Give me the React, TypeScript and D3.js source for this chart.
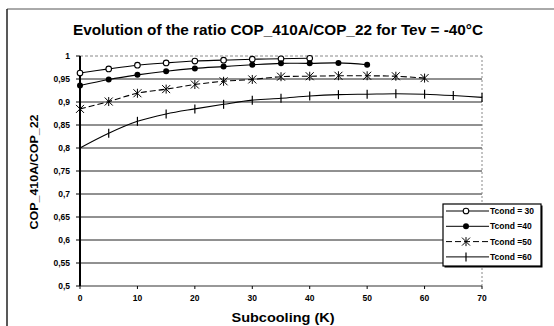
import React from "react";
import * as d3 from "d3";

const subcooling = [0, 5, 10, 15, 20, 25, 30, 35, 40, 45, 50, 55, 60, 65, 70];
const tcond30 = [0.963, 0.972, 0.98, 0.985, 0.989, 0.991, 0.993, 0.994, 0.995];
const tcond40 = [0.936, 0.949, 0.959, 0.967, 0.973, 0.977, 0.981, 0.984, 0.984, 0.985, 0.981];
const tcond50 = [0.885, 0.901, 0.919, 0.928, 0.938, 0.945, 0.949, 0.955, 0.956, 0.957, 0.957, 0.956, 0.952];
const tcond60 = [0.8, 0.832, 0.858, 0.874, 0.885, 0.895, 0.904, 0.908, 0.913, 0.916, 0.917, 0.918, 0.917, 0.914, 0.91];
const seriesNames = ["Tcond = 30", "Tcond =40", "Tcond =50", "Tcond =60"];
const xTicks = [0, 10, 20, 30, 40, 50, 60, 70];
const yTicks = [0.5, 0.55, 0.6, 0.65, 0.7, 0.75, 0.8, 0.85, 0.9, 0.95, 1];

const W = 554;
const H = 326;
const FONT = "'Liberation Sans', Arial, sans-serif";

const x = d3.scaleLinear().domain([0, 70]).range([80, 482]);
const y = d3.scaleLinear().domain([0.5, 1]).range([286, 56]);

const fmt = (v: number) => (v === 1 ? "1" : String(+v.toFixed(2)).replace(".", ","));

type Kind = "open" | "filled" | "star" | "plus";
const series: { values: number[]; kind: Kind; dash?: string }[] = [
  { values: tcond30, kind: "open" },
  { values: tcond40, kind: "filled" },
  { values: tcond50, kind: "star", dash: "6,3" },
  { values: tcond60, kind: "plus" },
];

function Marker({ kind, cx, cy }: { kind: Kind; cx: number; cy: number }) {
  if (kind === "open")
    return <circle cx={cx} cy={cy} r={2.8} fill="#fff" stroke="#000" strokeWidth={1.1} />;
  if (kind === "filled") return <circle cx={cx} cy={cy} r={3} fill="#000" />;
  if (kind === "star")
    return (
      <path
        d={`M${cx - 4},${cy - 4}L${cx + 4},${cy + 4}M${cx - 4},${cy + 4}L${cx + 4},${cy - 4}M${cx},${cy - 4.5}L${cx},${cy + 4.5}`}
        stroke="#000"
        strokeWidth={1}
        fill="none"
      />
    );
  return <path d={`M${cx},${cy - 4.5}L${cx},${cy + 4.5}`} stroke="#000" strokeWidth={1.2} />;
}

export default function App() {
  const line = d3
    .line<[number, number]>()
    .x((d) => x(d[0]))
    .y((d) => y(d[1]))
    .curve(d3.curveCatmullRom.alpha(0.5));

  return (
    <svg width={W} height={H} style={{ position: "absolute", left: 0, top: 0 }} fontFamily={FONT}>
      <rect x={0} y={0} width={W} height={H} fill="#fff" />
      {/* outer frame */}
      <line x1={7} y1={9} x2={W} y2={9} stroke="#555" strokeWidth={1} />
      <line x1={7} y1={9} x2={7} y2={H} stroke="#222" strokeWidth={1.5} />

      <text
        x={278}
        y={35}
        textAnchor="middle"
        fontSize={14}
        fontWeight="bold"
        textLength={410}
        lengthAdjust="spacingAndGlyphs"
      >
        Evolution of the ratio COP_410A/COP_22 for Tev = -40°C
      </text>

      {/* grid */}
      {yTicks
        .filter((t) => t > 0.5 && t < 1)
        .map((t) => (
          <line key={t} x1={x(0)} x2={x(70)} y1={y(t)} y2={y(t)} stroke="#222" strokeWidth={1} />
        ))}
      <line x1={x(0)} x2={x(70)} y1={y(1)} y2={y(1)} stroke="#888" strokeWidth={1} strokeDasharray="3,2" />
      <line x1={x(70)} x2={x(70)} y1={y(1)} y2={y(0.5)} stroke="#888" strokeWidth={1} strokeDasharray="2,2" />

      {/* x axis */}
      <line x1={x(0)} x2={x(70)} y1={y(0.5)} y2={y(0.5)} stroke="#333" strokeWidth={1.2} />
      {xTicks.map((t) => (
        <g key={t}>
          <line x1={x(t)} x2={x(t)} y1={y(0.5)} y2={y(0.5) + 3} stroke="#000" />
          <text x={x(t)} y={y(0.5) + 15} textAnchor="middle" fontSize={8.5} fontWeight="bold">
            {t}
          </text>
        </g>
      ))}

      {/* y axis */}
      <line x1={x(0)} x2={x(0)} y1={y(1)} y2={y(0.5)} stroke="#000" strokeWidth={2} />
      {yTicks.map((t) => (
        <g key={t}>
          <line x1={x(0) - 4} x2={x(0)} y1={y(t)} y2={y(t)} stroke="#000" />
          <text x={x(0) - 10} y={y(t) + 3} textAnchor="end" fontSize={8.5} fontWeight="bold">
            {fmt(t)}
          </text>
        </g>
      ))}

      {/* series */}
      {series.map((s, i) => {
        const pts = s.values.map((v, j) => [subcooling[j], v] as [number, number]);
        return (
          <g key={i}>
            <path d={line(pts) || ""} fill="none" stroke="#000" strokeWidth={1.1} strokeDasharray={s.dash} />
            {pts.map((p, j) => (
              <Marker key={j} kind={s.kind} cx={x(p[0])} cy={y(p[1])} />
            ))}
          </g>
        );
      })}

      {/* axis titles */}
      <text
        transform={`translate(38,172) rotate(-90)`}
        textAnchor="middle"
        fontSize={11}
        fontWeight="bold"
        textLength={115}
        lengthAdjust="spacingAndGlyphs"
      >
        COP_410A/COP_22
      </text>
      <text
        x={283}
        y={322}
        textAnchor="middle"
        fontSize={12}
        fontWeight="bold"
        textLength={103}
        lengthAdjust="spacingAndGlyphs"
      >
        Subcooling (K)
      </text>

      {/* legend */}
      <rect x={444.5} y={205.5} width={98} height={62} fill="#000" />
      <rect x={443} y={204} width={98} height={62} fill="#fff" stroke="#000" strokeWidth={1.2} />
      {series.map((s, i) => {
        const ly = 211 + i * 15.3;
        return (
          <g key={i}>
            <line x1={446} x2={489} y1={ly} y2={ly} stroke="#000" strokeWidth={1} strokeDasharray={s.dash} />
            <Marker kind={s.kind} cx={466} cy={ly} />
            <text x={490} y={ly + 3} fontSize={8.5} fontWeight="bold">
              {seriesNames[i]}
            </text>
          </g>
        );
      })}
    </svg>
  );
}
